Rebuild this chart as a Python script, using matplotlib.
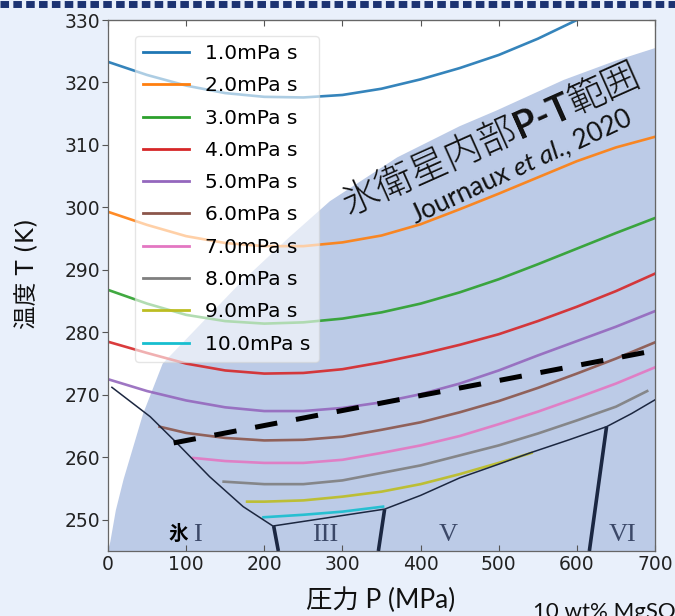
import math
import matplotlib
matplotlib.use('Agg')
import matplotlib.pyplot as plt
from matplotlib.lines import Line2D

plt.rcParams['font.family'] = ['DejaVu Sans', 'Noto Sans CJK JP']

# viscosity iso-lines, P in MPa, T in K
visc_labels = ['1.0mPa s', '2.0mPa s', '3.0mPa s', '4.0mPa s', '5.0mPa s',
               '6.0mPa s', '7.0mPa s', '8.0mPa s', '9.0mPa s', '10.0mPa s']
visc_p = [
    [0, 50, 100, 150, 200, 250, 300, 350, 400, 450, 500, 550, 600],
    [0, 50, 100, 150, 200, 250, 300, 350, 400, 450, 500, 550, 600, 650, 700],
    [0, 50, 100, 150, 200, 250, 300, 350, 400, 450, 500, 550, 600, 650, 700],
    [0, 50, 100, 150, 200, 250, 300, 350, 400, 450, 500, 550, 600, 650, 700],
    [0, 50, 100, 150, 200, 250, 300, 350, 400, 450, 500, 550, 600, 650, 700],
    [66, 100, 150, 200, 250, 300, 350, 400, 450, 500, 550, 600, 650, 700],
    [109, 150, 200, 250, 300, 350, 400, 450, 500, 550, 600, 650, 700],
    [148, 200, 250, 300, 350, 400, 450, 500, 550, 600, 650, 690],
    [178, 200, 250, 300, 350, 400, 450, 500, 542],
    [199, 250, 300, 352],
]
visc_t = [
    [323.3, 321.2, 319.5, 318.3, 317.7, 317.6, 318.0, 319.0, 320.5, 322.3, 324.4, 327.0, 330.0],
    [299.3, 297.2, 295.4, 294.3, 293.8, 293.8, 294.4, 295.5, 297.3, 299.7, 302.2, 304.8, 307.4, 309.6, 311.3],
    [286.8, 284.6, 282.8, 281.8, 281.4, 281.6, 282.2, 283.2, 284.6, 286.4, 288.5, 290.9, 293.4, 295.9, 298.3],
    [278.5, 276.7, 275.0, 273.9, 273.4, 273.5, 274.1, 275.2, 276.5, 278.0, 279.7, 281.8, 284.1, 286.6, 289.4],
    [272.5, 270.6, 269.1, 268.0, 267.4, 267.4, 267.9, 268.8, 270.1, 271.8, 273.9, 276.3, 278.6, 280.9, 283.4],
    [264.9, 263.9, 263.1, 262.7, 262.8, 263.3, 264.4, 265.6, 267.2, 269.0, 271.1, 273.4, 275.8, 278.4],
    [259.9, 259.4, 259.1, 259.1, 259.6, 260.7, 261.9, 263.4, 265.3, 267.3, 269.5, 271.8, 274.4],
    [256.1, 255.7, 255.7, 256.3, 257.5, 258.7, 260.3, 261.9, 263.8, 265.9, 268.1, 270.6],
    [252.9, 252.9, 253.1, 253.7, 254.5, 255.7, 257.3, 259.1, 260.7],
    [250.4, 250.8, 251.3, 252.1],
]
visc_colors = ['#1f77b4', '#ff7f0e', '#2ca02c', '#d62728', '#9467bd',
               '#8c564b', '#e377c2', '#7f7f7f', '#bcbd22', '#17becf']

# melting curve (ice I / III / V / VI)
melt_p = [5, 54, 88, 130, 173, 211, 280, 354, 400, 450, 500, 540, 590, 638, 670, 700]
melt_t = [271.2, 266.5, 262.3, 256.9, 252.1, 249.0, 250.3, 251.7, 253.9, 256.7, 258.9, 260.7, 262.8, 264.9, 267.0, 269.2]

# solid-solid phase boundaries
bound_p = [[212, 218], [354, 346], [638, 616]]
bound_t = [[249.0, 245.0], [251.7, 245.0], [264.9, 245.0]]

# icy moon interior P-T range (shaded)
range_p = [0, 3, 10, 20, 45, 70, 120, 170, 230, 284, 370, 450, 497, 583, 650, 700, 700]
range_t = [245, 246.5, 251.5, 256.5, 267, 275, 281.5, 288, 295, 301, 308, 313, 315.5, 320.4, 323.5, 325.5, 245]

# dashed line
dash_p = [84, 692]
dash_t = [262.3, 276.9]

phase_names = ['I', 'III', 'V', 'VI']
phase_p = [115, 278, 435, 659]
phase_t = [247.5, 247.5, 247.5, 247.5]

fig = plt.figure(figsize=(6.75, 6.16), dpi=100, facecolor='#e9f0fb')
ax = fig.add_axes([108 / 675, 1 - 551 / 616, 547 / 675, 531 / 616])
ax.set_facecolor('white')

ax.fill(range_p, range_t, color='#bccbe7', lw=0, zorder=1)

for p, t, c, lab in zip(visc_p, visc_t, visc_colors, visc_labels):
    ax.plot(p, t, color=c, lw=1.9, alpha=0.9, label=lab, zorder=2)

ax.plot(melt_p, melt_t, color='#1c2740', lw=1.1, zorder=3)
for p, t in zip(bound_p, bound_t):
    ax.plot(p, t, color='#1b2742', lw=2.6, zorder=3, solid_capstyle='butt')

ax.plot(dash_p, dash_t, color='black', lw=3.6, linestyle=(0, (4.5, 3.8)), zorder=4)

for name, p, t in zip(phase_names, phase_p, phase_t):
    ax.text(p, t, name, family='Liberation Serif', fontsize=19, color='#3b4868',
            ha='center', va='center', zorder=4)
ax.text(90, 247.6, '氷', family='Noto Sans CJK JP', fontweight='bold', fontsize=14,
        color='black', ha='center', va='center', zorder=4)

ax.set_xlim(0, 700)
ax.set_ylim(245, 330)
ax.set_xticks(range(0, 701, 100))
ax.set_yticks(range(250, 331, 10))
for s in ax.spines.values():
    s.set_color('#666666')
    s.set_linewidth(0.9)
ax.tick_params(axis='x', direction='in', length=4, width=0.8, color='#555555',
               labelsize=13.5, labelcolor='#222222', pad=3)
ax.tick_params(axis='y', direction='out', length=4, width=0.8, color='#555555',
               labelsize=13.5, labelcolor='#222222', pad=1.5)
top = ax.secondary_xaxis('top')
top.set_xticks(range(0, 701, 100))
top.tick_params(direction='in', length=4, width=0.8, color='#555555', labeltop=False)
top.spines['top'].set_color('#666666')
right = ax.secondary_yaxis('right')
right.set_yticks(range(250, 331, 10))
right.tick_params(direction='in', length=4, width=0.8, color='#555555', labelright=False)
right.spines['right'].set_color('#666666')

leg = ax.legend(loc='upper left', bbox_to_anchor=(0.049, 0.970), borderaxespad=0,
                fontsize=14.5, labelspacing=0.66, handlelength=2.3, handletextpad=0.8,
                framealpha=0.6, edgecolor='#d5d5d5', fancybox=True)
leg.set_zorder(6)
for line in leg.get_lines():
    line.set_linewidth(2.0)
    line.set_alpha(1)


def rotated_pieces(center, angle, pieces):
    # lay out several differently styled strings along one rotated baseline
    renderer = fig.canvas.get_renderer()
    widths = []
    for s, gap, kw in pieces:
        t = ax.text(0, 0, s, **kw)
        widths.append(t.get_window_extent(renderer).width + gap)
        t.remove()
    total = sum(widths)
    ca, sa = math.cos(math.radians(angle)), math.sin(math.radians(angle))
    cx, cy = ax.transData.transform(center)
    x0, y0 = cx - total / 2 * ca, cy - total / 2 * sa
    acc = 0
    for (s, gap, kw), w in zip(pieces, widths):
        px, py = ax.transData.inverted().transform((x0 + acc * ca, y0 + acc * sa))
        ax.text(px, py, s, rotation=angle, rotation_mode='anchor', ha='left',
                va='baseline', zorder=5, color='#111111', **kw)
        acc += w


fig.canvas.draw()
cjk = dict(family='Noto Sans CJK JP', fontweight='light', fontsize=27)
rotated_pieces((496, 309.3), 24, [
    ('氷衛星内部', 0, cjk),
    ('P-T', 0, dict(family='Lato', fontweight='bold', fontsize=27)),
    ('範囲', 0, cjk),
])
rotated_pieces((533, 305.4), 25, [
    ('Journaux', 6, dict(family='Lato', fontsize=19)),
    ('et al.', 0, dict(family='Lato', fontstyle='italic', fontsize=19)),
    (', 2020', 0, dict(family='Lato', fontsize=19)),
])

fig.text(381 / 675, 1 - 600 / 616, '圧力 P (MPa)', ha='center', va='center',
         fontsize=19, family=['Lato', 'Noto Sans CJK JP'], color='#111111')
fig.text(27 / 675, 1 - 274 / 616, '温度 T (K)', ha='center', va='center', rotation=90,
         fontsize=17, family=['DejaVu Sans', 'Noto Sans CJK JP'], color='#111111')
fig.text(533 / 675, 1 - 618 / 616, '10 wt% MgSO', ha='left', va='baseline',
         fontsize=16, family='Lato', color='#111111')

# dotted navy border along the top
fig.add_artist(Line2D([0, 1], [1 - 3.5 / 616, 1 - 3.5 / 616], transform=fig.transFigure,
                      color='#1c3372', lw=5.0, linestyle=(0, (1.23, 0.62)),
                      dash_capstyle='butt'))

fig.savefig('out.png', dpi=100, facecolor=fig.get_facecolor())
